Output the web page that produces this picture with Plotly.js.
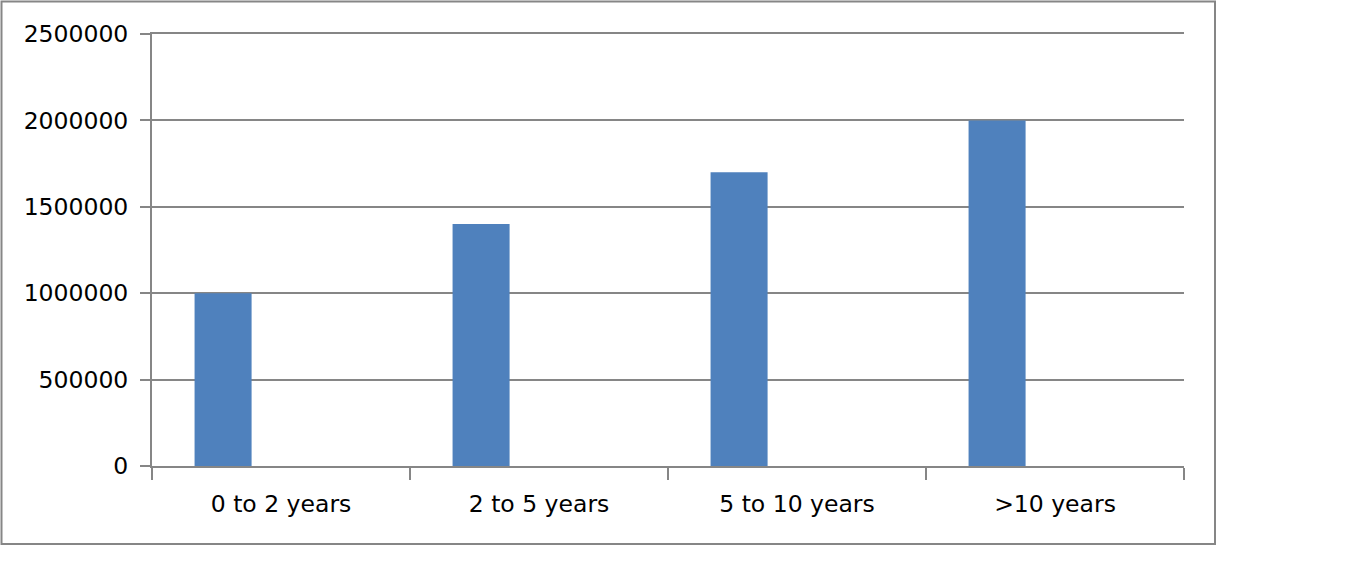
<!DOCTYPE html>
<html>
<head>
<meta charset="utf-8">
<script src="https://cdn.plot.ly/plotly-3.0.1.min.js"></script>
<style>
  html, body { margin: 0; padding: 0; background: #fff; }
  #chart { width: 1360px; height: 561px; }
</style>
</head>
<body>
<div id="chart"></div>
<script>
// data
var categories = ['0 to 2 years', '2 to 5 years', '5 to 10 years', '>10 years'];
var values = [1000000, 1400000, 1700000, 2000000];
var yTicks = [0, 500000, 1000000, 1500000, 2000000, 2500000];

var grey = '#868686';

var trace = {
  type: 'bar',
  x: categories,
  y: values,
  width: 0.221,
  offset: -0.335,
  marker: { color: '#4F81BD', line: { width: 0 } },
  hoverinfo: 'x+y'
};

// plot area is 152..1184 x 34..466 px
var W = 1032, H = 432;
function px(x) { return (x - 152) / W; }
function py(y) { return (466 - y) / H; }

var layout = {
  width: 1360,
  height: 561,
  margin: { l: 152, r: 176, t: 34, b: 95 },
  paper_bgcolor: '#fff',
  plot_bgcolor: '#fff',
  showlegend: false,
  font: { family: 'DejaVu Sans, Verdana, sans-serif', size: 23.5, color: '#000' },
  xaxis: {
    type: 'category',
    showline: true,
    mirror: true,   // top line doubles as the 2500000 gridline
    linecolor: grey,
    linewidth: 2,
    ticks: 'outside',
    tickson: 'boundaries',
    ticklen: 12,
    tickwidth: 2,
    tickcolor: grey,
    showgrid: false,
    ticklabelstandoff: 16
  },
  yaxis: {
    range: [0, 2500000],
    tickvals: yTicks,
    tickformat: 'd',
    showline: true,
    linecolor: grey,
    linewidth: 2,
    ticks: 'outside',
    ticklen: 10,
    tickwidth: 2,
    tickcolor: grey,
    showgrid: true,
    gridcolor: grey,
    gridwidth: 2,
    zeroline: false,
    ticklabelstandoff: 7
  },
  shapes: [{
    type: 'rect',
    xref: 'paper', yref: 'paper',
    x0: px(1.5), x1: px(1215), y0: py(544), y1: py(1.5),
    line: { color: grey, width: 2 },
    layer: 'below'
  }]
};

Plotly.newPlot('chart', [trace], layout, { displayModeBar: false, staticPlot: true });
</script>
</body>
</html>
